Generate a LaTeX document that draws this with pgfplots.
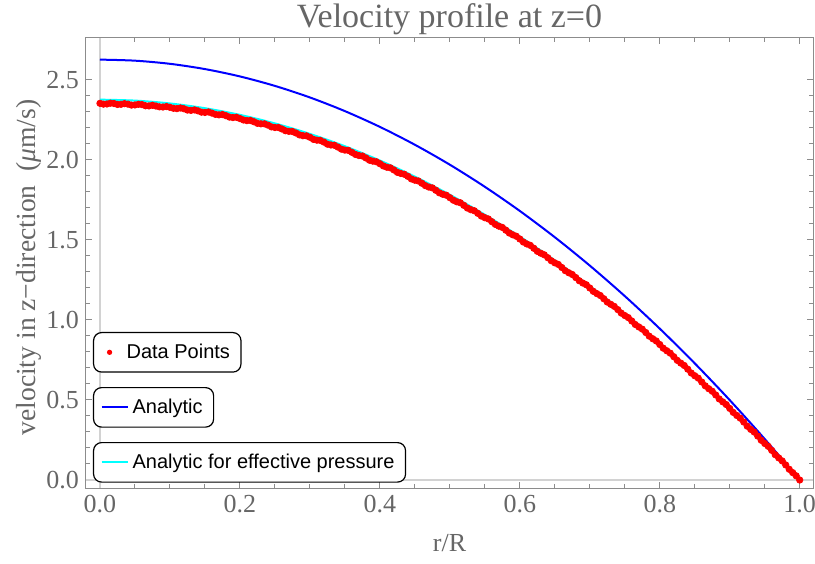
\documentclass[border=0pt]{standalone}
\usepackage{pgfplots}
\pgfplotsset{compat=1.18}
\usepackage{fontspec}
\setmainfont{Liberation Serif}
\setsansfont{Liberation Sans}
\definecolor{framegray}{RGB}{140,140,140}
\definecolor{labgray}{RGB}{102,102,102}
\definecolor{axisgray}{RGB}{210,210,210}
\definecolor{mblue}{RGB}{0,0,255}
\definecolor{mcyan}{RGB}{0,255,255}
\definecolor{mred}{RGB}{255,0,0}

\pgfplotsset{
  common/.style={
    scale only axis, width=363.5pt, height=225pt,
    xmin=-0.02, xmax=1.019, ymin=-0.05, ymax=2.76,
  },
  boxlegend/.style={
    common, hide axis,
    legend style={draw=black, line width=0.6pt, rounded corners=4pt,
      font=\fontsize{10}{12}\selectfont\sffamily, text=black,
      inner xsep=3.5pt, inner ysep=3.5pt, anchor=north west,
      legend cell align=left},
  },
}

\begin{document}
\begin{tikzpicture}
\begin{axis}[
    common,
    axis line style={framegray, line width=0.5pt},
    every tick/.style={framegray, line width=0.5pt},
    tick align=inside, tick pos=both,
    xticklabel pos=lower, yticklabel pos=left,
    major tick length=3.2pt, minor tick length=1.8pt,
    xtick={0,0.2,...,1.0}, minor x tick num=3,
    ytick={0,0.5,...,2.5}, minor y tick num=4,
    extra x ticks={0}, extra y ticks={0},
    extra x tick labels={}, extra y tick labels={},
    extra tick style={grid=major, major grid style={axisgray, line width=0.6pt}, major tick length=0pt},
    xticklabel style={/pgf/number format/.cd, fixed, fixed zerofill, precision=1},
    yticklabel style={/pgf/number format/.cd, fixed, fixed zerofill, precision=1},
    /pgf/number format/assume math mode=true,
    tick label style={font=\fontsize{13}{15}\selectfont, text=labgray},
    xlabel style={font=\fontsize{13}{15}\selectfont, text=labgray},
    ylabel style={font=\fontsize{13.8}{15}\selectfont, text=labgray},
    xlabel={r/R}, ylabel={velocity in z−direction\ \ (\textit{μ}m/s)},
    xlabel style={at={(axis description cs:0.5,-0.122)}, anchor=center},
    ylabel style={at={(axis description cs:-0.079,0.49)}, anchor=center},
    title={Velocity profile at z=0},
    title style={font=\fontsize{17}{19}\selectfont, text=labgray,
      at={(axis description cs:0.5,1.0)}, anchor=base, yshift=-1pt},
  ]
  % measured data
  \addplot[only marks, mark=*, mark size=1.6pt, color=mred] coordinates {
    (0.000,2.352) (0.005,2.347) (0.010,2.348) (0.015,2.353) (0.020,2.351)
    (0.025,2.345) (0.030,2.346) (0.035,2.350) (0.040,2.347) (0.045,2.341)
    (0.050,2.342) (0.055,2.346) (0.060,2.344) (0.065,2.337) (0.070,2.336)
    (0.075,2.340) (0.080,2.335) (0.085,2.330) (0.090,2.329) (0.095,2.332)
    (0.100,2.327) (0.105,2.321) (0.110,2.319) (0.115,2.323) (0.120,2.318)
    (0.125,2.310) (0.130,2.308) (0.135,2.311) (0.140,2.305) (0.145,2.297)
    (0.150,2.295) (0.155,2.298) (0.160,2.291) (0.165,2.283) (0.170,2.280)
    (0.175,2.282) (0.180,2.275) (0.185,2.266) (0.190,2.263) (0.195,2.265)
    (0.200,2.257) (0.205,2.248) (0.210,2.244) (0.215,2.245) (0.220,2.237)
    (0.225,2.227) (0.230,2.224) (0.235,2.224) (0.240,2.216) (0.245,2.205)
    (0.250,2.201) (0.255,2.201) (0.260,2.192) (0.265,2.181) (0.270,2.177)
    (0.275,2.176) (0.280,2.167) (0.285,2.155) (0.290,2.150) (0.295,2.149)
    (0.300,2.140) (0.305,2.127) (0.310,2.122) (0.315,2.120) (0.320,2.110)
    (0.325,2.097) (0.330,2.092) (0.335,2.090) (0.340,2.079) (0.345,2.066)
    (0.350,2.060) (0.355,2.058) (0.360,2.046) (0.365,2.033) (0.370,2.026)
    (0.375,2.023) (0.380,2.011) (0.385,1.997) (0.390,1.991) (0.395,1.987)
    (0.400,1.975) (0.405,1.961) (0.410,1.953) (0.415,1.949) (0.420,1.936)
    (0.425,1.921) (0.430,1.914) (0.435,1.909) (0.440,1.896) (0.445,1.880)
    (0.450,1.872) (0.455,1.867) (0.460,1.853) (0.465,1.838) (0.470,1.829)
    (0.475,1.824) (0.480,1.809) (0.485,1.793) (0.490,1.784) (0.495,1.778)
    (0.500,1.763) (0.505,1.747) (0.510,1.737) (0.515,1.731) (0.520,1.715)
    (0.525,1.698) (0.530,1.688) (0.535,1.681) (0.540,1.665) (0.545,1.648)
    (0.550,1.638) (0.555,1.630) (0.560,1.613) (0.565,1.596) (0.570,1.585)
    (0.575,1.577) (0.580,1.560) (0.585,1.542) (0.590,1.531) (0.595,1.522)
    (0.600,1.505) (0.605,1.486) (0.610,1.474) (0.615,1.465) (0.620,1.447)
    (0.625,1.428) (0.630,1.416) (0.635,1.406) (0.640,1.388) (0.645,1.369)
    (0.650,1.356) (0.655,1.346) (0.660,1.327) (0.665,1.307) (0.670,1.294)
    (0.675,1.283) (0.680,1.264) (0.685,1.244) (0.690,1.230) (0.695,1.219)
    (0.700,1.199) (0.705,1.178) (0.710,1.164) (0.715,1.152) (0.720,1.132)
    (0.725,1.111) (0.730,1.097) (0.735,1.084) (0.740,1.064) (0.745,1.042)
    (0.750,1.027) (0.755,1.014) (0.760,0.993) (0.765,0.971) (0.770,0.956)
    (0.775,0.942) (0.780,0.921) (0.785,0.898) (0.790,0.882) (0.795,0.868)
    (0.800,0.846) (0.805,0.823) (0.810,0.807) (0.815,0.792) (0.820,0.770)
    (0.825,0.747) (0.830,0.730) (0.835,0.715) (0.840,0.692) (0.845,0.668)
    (0.850,0.651) (0.855,0.636) (0.860,0.612) (0.865,0.588) (0.870,0.570)
    (0.875,0.554) (0.880,0.531) (0.885,0.506) (0.890,0.488) (0.895,0.471)
    (0.900,0.447) (0.905,0.422) (0.910,0.403) (0.915,0.386) (0.920,0.362)
    (0.925,0.336) (0.930,0.316) (0.935,0.299) (0.940,0.274) (0.945,0.248)
    (0.950,0.228) (0.955,0.210) (0.960,0.185) (0.965,0.158) (0.970,0.138)
    (0.975,0.119) (0.980,0.094) (0.985,0.067) (0.990,0.046) (0.995,0.026)
    (1.000,0.000)
  };
  % analytic
  \addplot[mblue, line width=1pt, smooth] coordinates {
    (0.00,2.625) (0.05,2.6184) (0.10,2.5988) (0.15,2.5659) (0.20,2.5200)
    (0.25,2.4609) (0.30,2.3888) (0.35,2.3034) (0.40,2.2050) (0.45,2.0934)
    (0.50,1.9688) (0.55,1.8309) (0.60,1.6800) (0.65,1.5159) (0.70,1.3388)
    (0.75,1.1484) (0.80,0.9450) (0.85,0.7284) (0.90,0.4988) (0.95,0.2559)
    (1.00,0.0000)
  };
  % analytic, effective pressure
  \addplot[mcyan, line width=1pt, smooth] coordinates {
    (0.00,2.375) (0.05,2.3691) (0.10,2.3513) (0.15,2.3216) (0.20,2.2800)
    (0.25,2.2266) (0.30,2.1613) (0.35,2.0841) (0.40,1.9950) (0.45,1.8941)
    (0.50,1.7813) (0.55,1.6566) (0.60,1.5200) (0.65,1.3716) (0.70,1.2113)
    (0.75,1.0391) (0.80,0.8550) (0.85,0.6591) (0.90,0.4513) (0.95,0.2316)
    (1.00,0.0000)
  };
\end{axis}

% three separate legend boxes
\begin{axis}[boxlegend, legend style={at={(0.0096,0.3467)}},
    legend image code/.code={\path[draw=none] (0pt,0pt) -- (11pt,0pt);
      \draw[#1] plot[only marks] coordinates {(4.5pt,0pt)};}]
  \addlegendimage{mark=*, mark size=1pt, mred}
  \addlegendentry{Data Points}
\end{axis}
\begin{axis}[boxlegend, legend style={at={(0.0096,0.2244)}},
    legend image code/.code={\draw[#1] (0pt,0pt) -- (13pt,0pt);}]
  \addlegendimage{mblue, line width=1pt}
  \addlegendentry{Analytic}
\end{axis}
\begin{axis}[boxlegend, legend style={at={(0.0096,0.1022)}},
    legend image code/.code={\draw[#1] (0pt,0pt) -- (13pt,0pt);}]
  \addlegendimage{mcyan, line width=1pt}
  \addlegendentry{Analytic for effective pressure}
\end{axis}

\pgfresetboundingbox
\path (-43pt,-37.5pt) rectangle (364.5pt,244pt);
\end{tikzpicture}
\end{document}
